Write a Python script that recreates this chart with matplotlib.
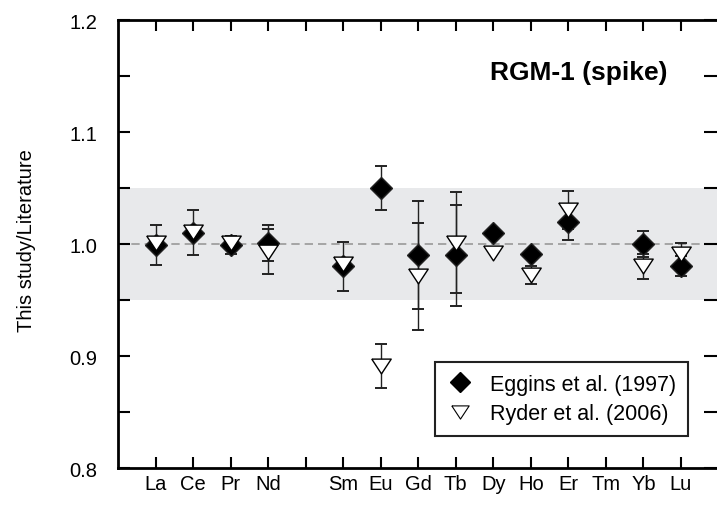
import matplotlib
matplotlib.use("Agg")
import matplotlib.pyplot as plt
import numpy as np
from matplotlib.lines import Line2D

plt.rcParams['font.family'] = ['Liberation Sans', 'DejaVu Sans']

# ---- data ----
elements = ['La', 'Ce', 'Pr', 'Nd', '', 'Sm', 'Eu', 'Gd', 'Tb', 'Dy', 'Ho', 'Er', 'Tm', 'Yb', 'Lu']
positions = list(range(1, 16))

eggins_x = [1, 2, 3, 4, 6, 7, 8, 9, 10, 11, 12, 14, 15]
eggins_y = [0.999, 1.010, 0.999, 1.001, 0.980, 1.050, 0.990, 0.990, 1.010, 0.991, 1.020, 1.000, 0.980]
eggins_err = [0.018, 0.020, 0.008, 0.016, 0.022, 0.020, 0.048, 0.045, 0.0, 0.0, 0.016, 0.012, 0.009]

ryder_x = [1, 2, 3, 4, 6, 7, 8, 9, 10, 11, 12, 14, 15]
ryder_y = [1.001, 1.011, 1.001, 0.993, 0.982, 0.891, 0.971, 1.001, 0.992, 0.972, 1.030, 0.980, 0.991]
ryder_err = [0.0, 0.0, 0.0, 0.020, 0.0, 0.020, 0.048, 0.045, 0.0, 0.008, 0.017, 0.011, 0.010]

band = (0.95, 1.05)
title = 'RGM-1 (spike)'
ylabel = 'This study/Literature'
legend_labels = ['Eggins et al. (1997)', 'Ryder et al. (2006)']

# ---- figure ----
W, H = 717, 506
fig = plt.figure(figsize=(W / 100, H / 100), dpi=100)
left, right, top, bottom = 118, 718.5, 21, 469
ax = fig.add_axes([left / W, (H - bottom) / H, (right - left) / W, (bottom - top) / H])

ax.set_xlim(0, 16)
ax.set_ylim(0.8, 1.2)

ax.axhspan(band[0], band[1], color='#e8e9eb', zorder=0, lw=0)
ax.axhline(1.0, color='#999999', lw=1.2, ls=(0, (5, 3)), zorder=1)

tri = [(-1, 0.76), (1, 0.76), (0, -0.76), (-1, 0.76)]

ex = np.array(eggins_x); ey = np.array(eggins_y); ee = np.array(eggins_err)
rx = np.array(ryder_x); ry = np.array(ryder_y); re = np.array(ryder_err)

m = ee > 0
ax.errorbar(ex[m], ey[m], yerr=ee[m], fmt='none', ecolor='#222222', elinewidth=1.0,
            capsize=4.3, capthick=1.4, zorder=2)
m = re > 0
ax.errorbar(rx[m], ry[m], yerr=re[m], fmt='none', ecolor='#222222', elinewidth=1.0,
            capsize=4.3, capthick=1.4, zorder=2)

ax.plot(ex, ey, ls='none', marker='D', ms=11.5, mfc='black', mec='#222222', mew=1.0, zorder=3)
ax.plot(rx, ry, ls='none', marker=tri, ms=14, mfc='white', mec='black', mew=1.0, zorder=4)

# ticks
ax.set_xticks(positions)
ax.set_xticklabels(elements)
yt = np.round(np.arange(0.8, 1.2001, 0.05), 2)
ax.set_yticks(yt)
ax.set_yticklabels([f'{v:.1f}' if abs(v * 10 - round(v * 10)) < 1e-6 else '' for v in yt])
ax.tick_params(axis='x', direction='in', length=8, width=1.5, top=True, bottom=True,
               labelsize=14.5, pad=4, colors='black')
ax.tick_params(axis='y', direction='in', length=8.6, width=1.5, left=True, right=True,
               labelsize=14.5, pad=15)
for t in ax.yaxis.get_major_ticks():
    t.tick2line.set_markersize(10.5)

for s in ax.spines.values():
    s.set_linewidth(2)
ax.spines['right'].set_visible(False)

ax.set_ylabel(ylabel, fontsize=14.5)
ax.yaxis.set_label_coords((36 - left) / (right - left), 0.51)

ax.text(668 / W, 1 - 73 / H, title, transform=fig.transFigure, fontsize=19,
        fontweight='bold', ha='right', va='center')

handles = [Line2D([], [], ls='none', marker='D', ms=10, mfc='black', mec='black'),
           Line2D([], [], ls='none', marker=tri, ms=12.5, mfc='white', mec='black', mew=0.8)]
leg = ax.legend(handles, legend_labels, loc='upper left',
                bbox_to_anchor=((435 - left) / (right - left), (bottom - 363) / (bottom - top)),
                fontsize=15.5, frameon=True, fancybox=False, edgecolor='#222222',
                framealpha=1, borderpad=0.55, handletextpad=0.8, handlelength=1.2,
                labelspacing=0.4, borderaxespad=0)
leg.get_frame().set_linewidth(1.5)

fig.savefig('out.png', dpi=100)
